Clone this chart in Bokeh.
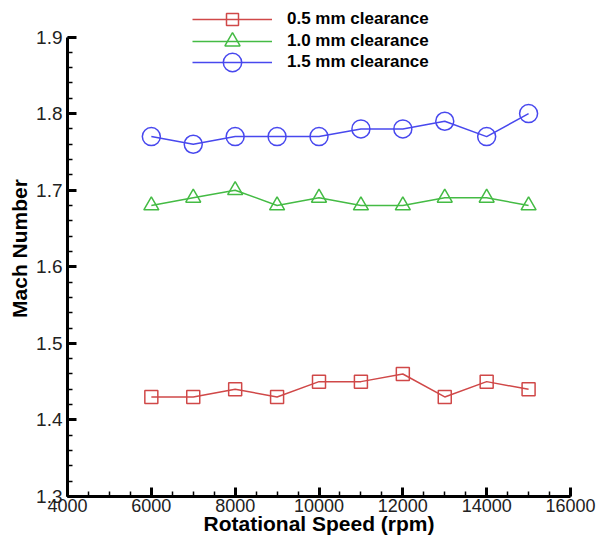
from bokeh.plotting import figure
from bokeh.models import Legend, LegendItem, Range1d, FixedTicker, NumeralTickFormatter
from bokeh.embed import file_html
from bokeh.resources import INLINE

rpm = [6000, 7000, 8000, 9000, 10000, 11000, 12000, 13000, 14000, 15000]
mach_05 = [1.43, 1.43, 1.44, 1.43, 1.45, 1.45, 1.46, 1.43, 1.45, 1.44]
mach_10 = [1.68, 1.69, 1.70, 1.68, 1.69, 1.68, 1.68, 1.69, 1.69, 1.68]
mach_15 = [1.77, 1.76, 1.77, 1.77, 1.77, 1.78, 1.78, 1.79, 1.77, 1.80]
labels = ["0.5 mm clearance", "1.0 mm clearance", "1.5 mm clearance"]
x_ticks = [4000, 6000, 8000, 10000, 12000, 14000, 16000]
y_ticks = [1.3, 1.4, 1.5, 1.6, 1.7, 1.8, 1.9]

RED, GREEN, BLUE = "#d04848", "#44bb44", "#4848ee"
FONT = "Liberation Sans"

# y range extends a little above 1.9 so the legend can sit in the frame; axis stops at 1.9
p = figure(width=597, height=540, output_backend="svg", toolbar_location=None,
           x_range=Range1d(4000, 16000), y_range=Range1d(1.3, 1.9477),
           min_border_left=67, min_border_top=0, min_border_right=27, min_border_bottom=44)
p.outline_line_color = None
p.grid.grid_line_color = None

r1l = p.line(rpm, mach_05, line_color=RED, line_width=1.5)
r1m = p.scatter(rpm, mach_05, marker="square", size=13, fill_color="white", fill_alpha=0,
                line_color=RED, line_width=1.5)
r2l = p.line(rpm, mach_10, line_color=GREEN, line_width=1.5)
r2m = p.scatter(rpm, mach_10, marker="triangle", size=15, fill_color="white", fill_alpha=0,
                line_color=GREEN, line_width=1.5)
r3l = p.line(rpm, mach_15, line_color=BLUE, line_width=1.5)
r3m = p.scatter(rpm, mach_15, marker="circle", size=18, fill_color="white", fill_alpha=0,
                line_color=BLUE, line_width=1.5)

for ax in (p.xaxis[0], p.yaxis[0]):
    ax.axis_line_width = 3
    ax.axis_line_color = "black"
    ax.major_tick_in = 9
    ax.major_tick_out = 0
    ax.minor_tick_in = 5
    ax.minor_tick_out = 0
    ax.major_tick_line_width = 3
    ax.minor_tick_line_width = 1.5
    ax.major_tick_line_color = "black"
    ax.minor_tick_line_color = "black"
    ax.major_label_text_font = FONT
    ax.major_label_text_font_size = "18px"
    ax.major_label_text_color = "#222222"
    ax.axis_label_text_font = FONT
    ax.axis_label_text_font_style = "bold"
    ax.axis_label_text_font_size = "21px"
    ax.axis_label_text_color = "black"

p.yaxis[0].major_label_text_font_size = "19px"
p.xaxis[0].bounds = (4000, 16000)
p.yaxis[0].bounds = (1.3, 1.9)
p.xaxis[0].ticker = FixedTicker(ticks=x_ticks, minor_ticks=list(range(4000, 16001, 500)))
p.yaxis[0].ticker = FixedTicker(ticks=y_ticks,
                                minor_ticks=[round(1.3 + 0.02 * i, 2) for i in range(31)])
p.yaxis[0].formatter = NumeralTickFormatter(format="0.0")
p.xaxis[0].axis_label = "Rotational Speed (rpm)"
p.yaxis[0].axis_label = "Mach Number"
p.xaxis[0].major_label_standoff = 2
p.xaxis[0].axis_label_standoff = -3
p.yaxis[0].major_label_standoff = 5
p.yaxis[0].axis_label_standoff = 2

# one legend per row so that each marker can have its own size
rows = [(labels[0], [r1l, r1m], 30, 462),
        (labels[1], [r2l, r2m], 38, 436),
        (labels[2], [r3l, r3m], 46, 411)]
for lab, rends, gh, ypos in rows:
    lg = Legend(items=[LegendItem(label=lab, renderers=rends)],
                location=(125, ypos), orientation="vertical",
                background_fill_alpha=0, border_line_color=None,
                padding=0, margin=0, spacing=0,
                glyph_width=80, glyph_height=gh, label_height=gh,
                label_standoff=15,
                label_text_font=FONT, label_text_font_style="bold",
                label_text_font_size="17px", label_text_color="black")
    p.add_layout(lg, "center")

open("out.html", "w").write(file_html(p, INLINE))
